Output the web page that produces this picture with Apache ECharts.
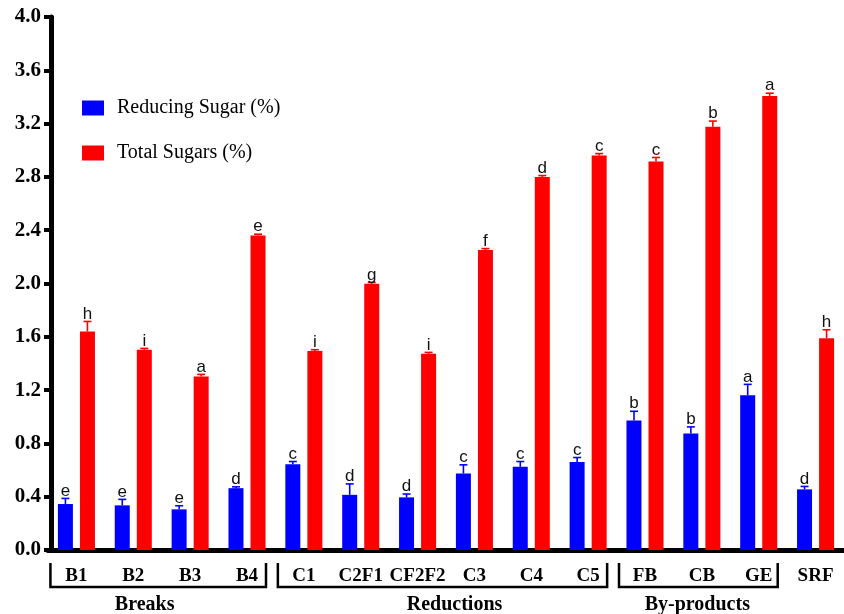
<!DOCTYPE html>
<html>
<head>
<meta charset="utf-8">
<script src="https://cdn.jsdelivr.net/npm/echarts@6/dist/echarts.min.js"></script>
<style>
  html, body { margin: 0; padding: 0; background: #fff; }
  #main { width: 844px; height: 614px; }
</style>
</head>
<body>
<div id="main"></div>
<script>
// data
var categories = ['B1', 'B2', 'B3', 'B4', 'C1', 'C2F1', 'CF2F2', 'C3', 'C4', 'C5', 'FB', 'CB', 'GE', 'SRF'];

var reducingSugar = [0.345, 0.335, 0.305, 0.464, 0.644, 0.414, 0.395, 0.574, 0.624, 0.661, 0.971, 0.874, 1.161, 0.455];
var reducingErr = [0.042, 0.045, 0.027, 0.010, 0.020, 0.082, 0.025, 0.065, 0.040, 0.033, 0.070, 0.050, 0.082, 0.022];
var reducingLetters = ['e', 'e', 'e', 'd', 'c', 'd', 'd', 'c', 'c', 'c', 'b', 'b', 'a', 'd'];

var totalSugars = [1.640, 1.503, 1.303, 2.360, 1.493, 1.998, 1.473, 2.252, 2.800, 2.960, 2.916, 3.176, 3.408, 1.590];
var totalErr = [0.075, 0.010, 0.015, 0.010, 0.010, 0.010, 0.010, 0.010, 0.010, 0.015, 0.030, 0.043, 0.020, 0.063];
var totalLetters = ['h', 'i', 'a', 'e', 'i', 'g', 'i', 'f', 'd', 'c', 'c', 'b', 'a', 'h'];

var groupNames = ['Breaks', 'Reductions', 'By-products'];
var groupFirst = [0, 4, 10];
var groupLast = [3, 9, 12];
var groupLabelAt = [1.2, 6.65, 10.92]; // where the group title sits, in category units

var yMin = 0, yMax = 4, yStep = 0.4;

var chart = echarts.init(document.getElementById('main'));

var SERIF = '"Liberation Serif", "Times New Roman", serif';
var BAR_W = 15;
var BAR_GAP = '47%';
var SHIFT = 11; // half of bar width + gap

// error bar + significance letter, on top of each bar
function errorSeries(values, errs, letters, color, shift) {
  return {
    type: 'custom',
    name: 'err' + color,
    z: 5,
    silent: true,
    data: values.map(function (v, i) { return [i, v, v + errs[i]]; }),
    encode: { x: 0, y: [1, 2] },
    renderItem: function (params, api) {
      var i = api.value(0);
      var base = api.coord([i, api.value(1)]);
      var top = api.coord([i, api.value(2)]);
      var x = base[0] + shift;
      return {
        type: 'group',
        children: [{
          type: 'line',
          shape: { x1: x, y1: base[1], x2: x, y2: top[1] },
          style: { stroke: color, lineWidth: 1.6 }
        }, {
          type: 'line',
          shape: { x1: x - 4, y1: top[1], x2: x + 4, y2: top[1] },
          style: { stroke: color, lineWidth: 1.6 }
        }, {
          type: 'text',
          x: x,
          y: top[1] + 1,
          style: {
            text: letters[params.dataIndex],
            fill: '#111',
            font: '17px "Liberation Sans", Arial, sans-serif',
            align: 'center',
            verticalAlign: 'bottom'
          }
        }]
      };
    }
  };
}

chart.setOption({
  animation: false,
  backgroundColor: '#fff',
  grid: { left: 48, right: -7, top: 17, bottom: 64 },
  legend: {
    data: ['Reducing Sugar (%)', 'Total Sugars (%)'],
    orient: 'vertical',
    left: 77,
    top: 93,
    icon: 'rect',
    itemWidth: 22,
    itemHeight: 15,
    itemGap: 25,
    textStyle: { fontFamily: SERIF, fontSize: 20, color: '#000', padding: [0, 0, 0, 8] }
  },
  xAxis: {
    type: 'category',
    data: categories,
    axisLine: { lineStyle: { color: '#000', width: 5 } },
    axisTick: { alignWithLabel: true, length: 9, lineStyle: { color: '#000', width: 5 } },
    axisLabel: {
      interval: 0, margin: 17, color: '#000',
      fontFamily: SERIF, fontWeight: 'bold', fontSize: 19
    },
    splitLine: { show: false }
  },
  yAxis: {
    type: 'value',
    min: yMin, max: yMax, interval: yStep,
    offset: -3,
    axisLine: { show: true, lineStyle: { color: '#000', width: 5 } },
    axisTick: { show: true, length: 7, lineStyle: { color: '#000', width: 4 } },
    axisLabel: {
      margin: 10, color: '#000',
      fontFamily: SERIF, fontWeight: 'bold', fontSize: 21,
      formatter: function (v) { return v.toFixed(1); }
    },
    splitLine: { show: false }
  },
  series: [{
    name: 'Reducing Sugar (%)',
    type: 'bar',
    data: reducingSugar,
    barWidth: BAR_W,
    barGap: BAR_GAP,
    itemStyle: { color: '#0000FF' }
  }, {
    name: 'Total Sugars (%)',
    type: 'bar',
    data: totalSugars,
    barWidth: BAR_W,
    barGap: BAR_GAP,
    itemStyle: { color: '#FF0000' }
  },
  errorSeries(reducingSugar, reducingErr, reducingLetters, '#0000FF', -SHIFT),
  errorSeries(totalSugars, totalErr, totalLetters, '#FF0000', SHIFT),
  {
    // group brackets under the category labels
    type: 'custom',
    name: 'groups',
    silent: true,
    clip: false,
    data: groupFirst.map(function (f, k) { return [f, groupLast[k], 0]; }),
    encode: { x: [0, 1], y: 2 },
    renderItem: function (params, api) {
      var k = params.dataIndex;
      var a = api.coord([api.value(0), 0]);
      var b = api.coord([api.value(1), 0]);
      var step = api.size([1, 0])[0];
      var x1 = a[0] - 26, x2 = b[0] + 19;
      var yTop = a[1] + 13, yBot = a[1] + 37;
      var tx = a[0] + (groupLabelAt[k] - groupFirst[k]) * step;
      return {
        type: 'group',
        children: [{
          type: 'polyline',
          shape: { points: [[x1, yTop], [x1, yBot], [x2, yBot], [x2, yTop]] },
          style: { stroke: '#000', lineWidth: 2.5, fill: null }
        }, {
          type: 'text',
          x: tx,
          y: a[1] + 55,
          style: {
            text: groupNames[k],
            fill: '#000',
            font: 'bold 20px ' + SERIF,
            align: 'center',
            verticalAlign: 'middle'
          }
        }]
      };
    }
  }]
});
</script>
</body>
</html>
